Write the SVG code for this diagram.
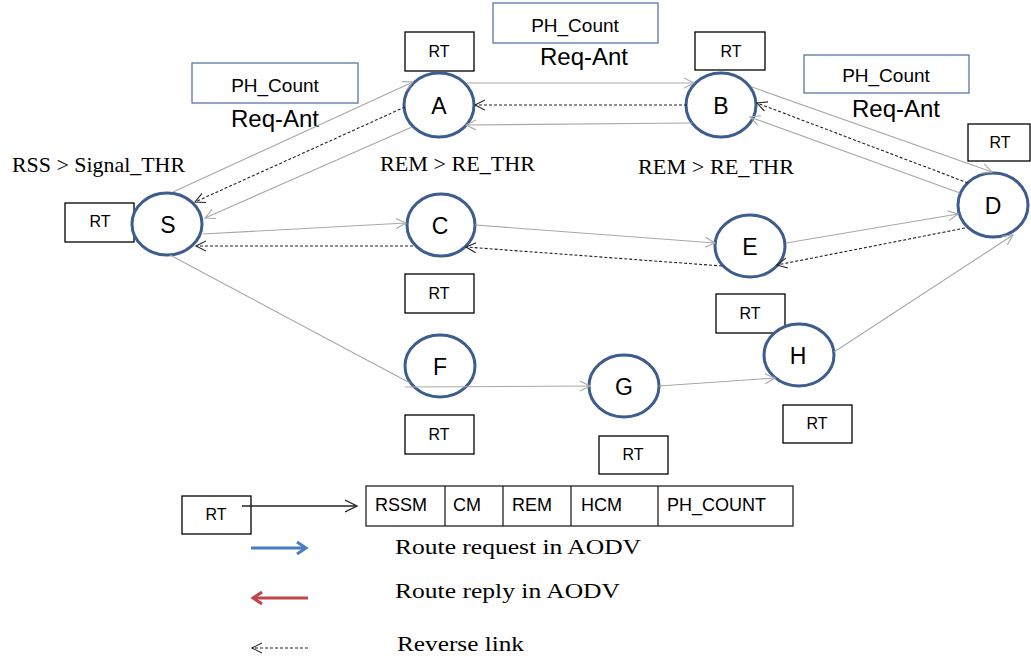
<svg xmlns="http://www.w3.org/2000/svg" width="1031" height="659" viewBox="0 0 1031 659">
<style>
.node ellipse{fill:#fff;stroke:#3d5d8e;stroke-width:3}
.node text{font-family:"Liberation Sans",Arial,sans-serif;font-size:23px;fill:#000;text-anchor:middle}
.rt rect{fill:#fff;stroke:#000;stroke-width:1.3}
.rt text{font-family:"Liberation Sans",Arial,sans-serif;font-size:16px;fill:#000;text-anchor:middle}
.tbl text{font-family:"Liberation Sans",Arial,sans-serif;font-size:18px;fill:#000}
.ph rect{fill:#fff;stroke:#5a76a6;stroke-width:1.3}
.ph text{font-family:"Liberation Sans",Arial,sans-serif;font-size:19px;text-anchor:middle}
.req{font-family:"Liberation Sans",Arial,sans-serif;font-size:24px;text-anchor:middle}
.serif{font-family:"Liberation Serif","Times New Roman",serif;font-size:21px;fill:#000}
.lg{font-size:22px}
.g{stroke:#a8a8a8;stroke-width:1.1;fill:none}
.d{stroke:#222;stroke-width:1.1;stroke-dasharray:3 2;fill:none}
.tbl rect,.tbl line{fill:none;stroke:#222;stroke-width:1.3}
</style>
<defs>
<marker id="ag" markerUnits="userSpaceOnUse" markerWidth="12" markerHeight="12" refX="10" refY="5" orient="auto" viewBox="0 0 12 10"><path d="M0,0 L10,5 L0,10" fill="none" stroke="#a8a8a8" stroke-width="1.1"/></marker>
<marker id="ad" markerUnits="userSpaceOnUse" markerWidth="12" markerHeight="12" refX="10" refY="5" orient="auto" viewBox="0 0 12 10"><path d="M0,0 L10,5 L0,10" fill="none" stroke="#222" stroke-width="1.1"/></marker>
<marker id="ak" markerUnits="userSpaceOnUse" markerWidth="14" markerHeight="14" refX="12" refY="6" orient="auto" viewBox="0 0 14 12"><path d="M0,0 L12,6 L0,12" fill="none" stroke="#222" stroke-width="1.3"/></marker>
<marker id="ab" markerUnits="userSpaceOnUse" markerWidth="14" markerHeight="14" refX="11" refY="6" orient="auto" viewBox="0 0 14 12"><path d="M2,0 L11,6 L2,12" fill="none" stroke="#4a7dbf" stroke-width="3"/></marker>
<marker id="ar" markerUnits="userSpaceOnUse" markerWidth="14" markerHeight="14" refX="11" refY="6" orient="auto" viewBox="0 0 14 12"><path d="M2,0 L11,6 L2,12" fill="none" stroke="#c0464a" stroke-width="3"/></marker>
</defs>

<!-- annotation boxes -->
<g id="ph-left" class="ph"><rect x="192" y="63" width="166" height="40"/><text x="275" y="92">PH_Count</text></g>
<g id="ph-top" class="ph"><rect x="493" y="3" width="165" height="40"/><text x="575" y="32">PH_Count</text></g>
<g id="ph-right" class="ph"><rect x="804" y="55" width="165" height="38"/><text x="886" y="82">PH_Count</text></g>
<text class="req" x="275" y="127">Req-Ant</text>
<text class="req" x="584" y="65">Req-Ant</text>
<text class="req" x="896" y="117">Req-Ant</text>
<text class="serif" x="12" y="172" textLength="173" lengthAdjust="spacingAndGlyphs">RSS &gt; Signal_THR</text>
<text class="serif" x="380" y="171" textLength="155" lengthAdjust="spacingAndGlyphs">REM &gt; RE_THR</text>
<text class="serif" x="638" y="174" textLength="156" lengthAdjust="spacingAndGlyphs">REM &gt; RE_THR</text>

<!-- routing tables -->
<g id="rt-s" class="rt"><rect x="65" y="203" width="69" height="39"/><text x="100" y="227">RT</text></g>
<g id="rt-a" class="rt"><rect x="405" y="32" width="69" height="39"/><text x="439" y="57">RT</text></g>
<g id="rt-b" class="rt"><rect x="695" y="32" width="70" height="38"/><text x="731" y="57">RT</text></g>
<g id="rt-d" class="rt"><rect x="968" y="124" width="62" height="37"/><text x="1000" y="148">RT</text></g>
<g id="rt-c" class="rt"><rect x="405" y="274" width="69" height="39"/><text x="439" y="299">RT</text></g>
<g id="rt-f" class="rt"><rect x="405" y="415" width="69" height="39"/><text x="439" y="440">RT</text></g>
<g id="rt-g" class="rt"><rect x="599" y="436" width="69" height="38"/><text x="633" y="460">RT</text></g>
<g id="rt-h1" class="rt"><rect x="716" y="294" width="69" height="39"/><text x="750" y="319">RT</text></g>
<g id="rt-h2" class="rt"><rect x="783" y="405" width="69" height="38"/><text x="817" y="429">RT</text></g>

<!-- nodes -->
<g id="node-S" class="node"><ellipse cx="167" cy="224" rx="35" ry="31"/><text x="168" y="233">S</text></g>
<g id="node-A" class="node"><ellipse cx="439" cy="105" rx="35" ry="32"/><text x="439" y="114">A</text></g>
<g id="node-B" class="node"><ellipse cx="721" cy="105" rx="35" ry="32"/><text x="721" y="114">B</text></g>
<g id="node-D" class="node"><ellipse cx="993" cy="205" rx="35" ry="32"/><text x="993" y="214">D</text></g>
<g id="node-C" class="node"><ellipse cx="441" cy="225" rx="34" ry="31"/><text x="440" y="234">C</text></g>
<g id="node-E" class="node"><ellipse cx="750" cy="246" rx="35" ry="31"/><text x="750" y="255">E</text></g>
<g id="node-F" class="node"><ellipse cx="440" cy="366" rx="35" ry="31"/><text x="440" y="375">F</text></g>
<g id="node-G" class="node"><ellipse cx="624" cy="386" rx="35" ry="31"/><text x="624" y="395">G</text></g>
<g id="node-H" class="node"><ellipse cx="799" cy="355" rx="35" ry="31"/><text x="798" y="364">H</text></g>

<!-- connectors -->
<g id="connectors">
<line class="g" x1="173" y1="192" x2="413" y2="82" marker-end="url(#ag)"/>
<line class="d" x1="405" y1="107" x2="195" y2="202" marker-end="url(#ad)"/>
<line class="g" x1="412" y1="127" x2="205" y2="218" marker-end="url(#ag)"/>
<line class="g" x1="467" y1="83" x2="694" y2="83" marker-end="url(#ag)"/>
<line class="d" x1="687" y1="105" x2="475" y2="105" marker-end="url(#ad)"/>
<line class="g" x1="692" y1="123" x2="466" y2="125" marker-end="url(#ag)"/>
<line class="g" x1="752" y1="87" x2="992" y2="172" marker-end="url(#ag)"/>
<line class="d" x1="968" y1="183" x2="757" y2="103" marker-end="url(#ad)"/>
<line class="g" x1="960" y1="193" x2="750" y2="117" marker-end="url(#ag)"/>
<line class="g" x1="203" y1="234" x2="406" y2="223" marker-end="url(#ag)"/>
<line class="d" x1="413" y1="246" x2="196" y2="246" marker-end="url(#ad)"/>
<line class="g" x1="475" y1="225" x2="715" y2="243" marker-end="url(#ag)"/>
<line class="d" x1="722" y1="266" x2="466" y2="247" marker-end="url(#ad)"/>
<line class="g" x1="786" y1="243" x2="958" y2="214" marker-end="url(#ag)"/>
<line class="d" x1="965" y1="228" x2="777" y2="265" marker-end="url(#ad)"/>
<line class="g" x1="170" y1="255" x2="410" y2="383"/>
<line class="g" x1="405" y1="387" x2="590" y2="386" marker-end="url(#ag)"/>
<line class="g" x1="659" y1="386" x2="775" y2="378" marker-end="url(#ag)"/>
<line class="g" x1="834" y1="352" x2="1013" y2="235" marker-end="url(#ag)"/>
</g>

<!-- legend -->
<g id="legend">
<g id="rt-legend" class="rt"><rect x="182" y="496" width="69" height="38"/><text x="216" y="520">RT</text></g>
<line x1="242" y1="506" x2="357" y2="506" stroke="#222" stroke-width="1.3" marker-end="url(#ak)"/>
<g id="rt-fields" class="tbl">
<rect x="366" y="486" width="427" height="40"/>
<line x1="445" y1="486" x2="445" y2="526"/>
<line x1="503" y1="486" x2="503" y2="526"/>
<line x1="571" y1="486" x2="571" y2="526"/>
<line x1="658" y1="486" x2="658" y2="526"/>
<text x="375" y="511">RSSM</text>
<text x="453" y="511">CM</text>
<text x="512" y="511">REM</text>
<text x="581" y="511">HCM</text>
<text x="667" y="511">PH_COUNT</text>
</g>
<line x1="251" y1="548" x2="306" y2="548" stroke="#4a7dbf" stroke-width="3" marker-end="url(#ab)"/>
<line x1="308" y1="598" x2="253" y2="598" stroke="#c0464a" stroke-width="3" marker-end="url(#ar)"/>
<line class="d" x1="308" y1="648" x2="252" y2="648" marker-end="url(#ad)"/>
<text class="serif lg" x="395" y="554" textLength="246" lengthAdjust="spacingAndGlyphs">Route request in AODV</text>
<text class="serif lg" x="395" y="598" textLength="225" lengthAdjust="spacingAndGlyphs">Route reply in AODV</text>
<text class="serif lg" x="397" y="651" textLength="127" lengthAdjust="spacingAndGlyphs">Reverse link</text>
</g>
</svg>
